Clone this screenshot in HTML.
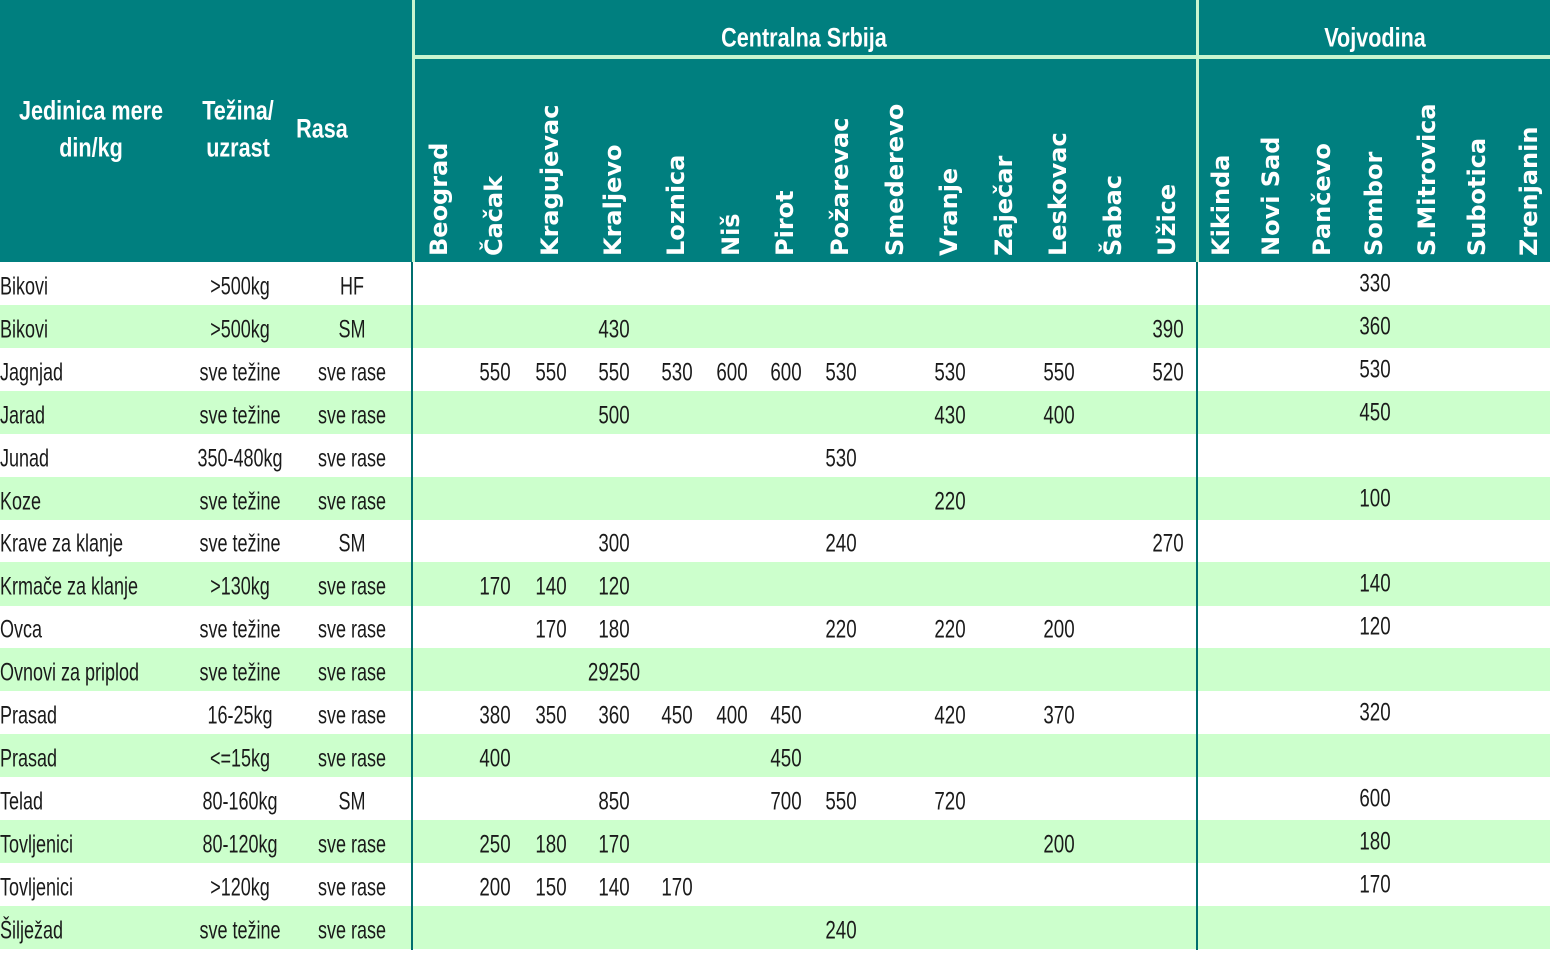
<!DOCTYPE html>
<html><head><meta charset="utf-8">
<style>
body{margin:0;width:1550px;height:959px;background:#fff;position:relative;overflow:hidden;font-family:"Liberation Sans","DejaVu Sans",sans-serif;}
.a{position:absolute}
.hd{position:absolute;left:0;top:0;width:1550px;height:262px;background:#007f7f}
.t{position:absolute;font-size:25px;color:#1a1a1a;white-space:nowrap;line-height:1;transform-origin:center;}
.h{position:absolute;color:#fff;font-weight:bold;font-size:27px;white-space:nowrap;line-height:1;}
.r{position:absolute;color:#fff;font-weight:bold;font-family:"DejaVu Sans",sans-serif;font-size:24px;white-space:nowrap;line-height:1;transform:rotate(-90deg);transform-origin:0 0;}
</style></head><body>
<div class="hd"></div>
<div class="a" style="left:412px;top:0;width:3px;height:262px;background:#c8f5d0"></div>
<div class="a" style="left:1196px;top:0;width:3px;height:262px;background:#c8f5d0"></div>
<div class="a" style="left:412px;top:55px;width:1138px;height:4px;background:#c8f5d0"></div>
<div id="c"></div>
<div class="a" style="left:411px;top:262px;width:2px;height:688px;background:#006e6e"></div>
<div class="a" style="left:1196px;top:262px;width:2px;height:688px;background:#006e6e"></div>
<script>
const c=document.getElementById('c');
function add(html){c.insertAdjacentHTML('beforeend',html);}
const RT=262,RH=42.9;
for(let i=0;i<16;i++){ if(i%2==1) add(`<div class="a" style="left:0;top:${RT+i*RH}px;width:1550px;height:${RH+0.5}px;background:#ccffcc"></div>`);}
function hc(txt,cx,cy,sx){add(`<div class="h" style="left:${cx}px;top:${cy}px;transform:translate(-50%,-50%) scaleX(${sx||0.8})">${txt}</div>`);}
hc('Jedinica mere',91,111);hc('din/kg',91,148);hc('Težina/',238,111);hc('uzrast',238,148);hc('Rasa',322,129);
hc('Centralna Srbija',804,38);hc('Vojvodina',1375,38);
const cols=[['Beograd',440],['Čačak',495],['Kragujevac',551],['Kraljevo',614],['Loznica',677],['Niš',732],['Pirot',786],['Požarevac',841],['Smederevo',896],['Vranje',950],['Zaječar',1005],['Leskovac',1059],['Šabac',1114],['Užice',1168],['Kikinda',1222],['Novi Sad',1272],['Pančevo',1323],['Sombor',1375],['S.Mitrovica',1428],['Subotica',1478],['Zrenjanin',1530]];
cols.forEach(([n,x])=>add(`<div class="r" style="left:${x-13}px;top:256px">${n}</div>`));
const rows=[
['Bikovi','>500kg','HF',{1375:330}],
['Bikovi','>500kg','SM',{614:430,1168:390,1375:360}],
['Jagnjad','sve težine','sve rase',{495:550,551:550,614:550,677:530,732:600,786:600,841:530,950:530,1059:550,1168:520,1375:530}],
['Jarad','sve težine','sve rase',{614:500,950:430,1059:400,1375:450}],
['Junad','350-480kg','sve rase',{841:530}],
['Koze','sve težine','sve rase',{950:220,1375:100}],
['Krave za klanje','sve težine','SM',{614:300,841:240,1168:270}],
['Krmače za klanje','>130kg','sve rase',{495:170,551:140,614:120,1375:140}],
['Ovca','sve težine','sve rase',{551:170,614:180,841:220,950:220,1059:200,1375:120}],
['Ovnovi za priplod','sve težine','sve rase',{614:'29250'}],
['Prasad','16-25kg','sve rase',{495:380,551:350,614:360,677:450,732:400,786:450,950:420,1059:370,1375:320}],
['Prasad','<=15kg','sve rase',{495:400,786:450}],
['Telad','80-160kg','SM',{614:850,786:700,841:550,950:720,1375:600}],
['Tovljenici','80-120kg','sve rase',{495:250,551:180,614:170,1059:200,1375:180}],
['Tovljenici','>120kg','sve rase',{495:200,551:150,614:140,677:170,1375:170}],
['Šilježad','sve težine','sve rase',{841:240}]];
function esc(s){return String(s).replace(/&/g,'&amp;').replace(/</g,'&lt;').replace(/>/g,'&gt;');}
rows.forEach((r,i)=>{
 const cy=RT+i*RH+25;
 add(`<div class="t" style="left:0;top:${cy}px;transform-origin:0 50%;transform:translateY(-50%) scaleX(0.72)">${esc(r[0])}</div>`);
 add(`<div class="t" style="left:240px;top:${cy}px;transform:translate(-50%,-50%) scaleX(0.72)">${esc(r[1])}</div>`);
 add(`<div class="t" style="left:352px;top:${cy}px;transform:translate(-50%,-50%) scaleX(0.72)">${esc(r[2])}</div>`);
 for(const k in r[3]){
  const y=(+k>1196)?cy-3:cy;
  add(`<div class="t" style="left:${k}px;top:${y}px;transform:translate(-50%,-50%) scaleX(0.75)">${r[3][k]}</div>`);
 }
});
</script>
</body></html>
